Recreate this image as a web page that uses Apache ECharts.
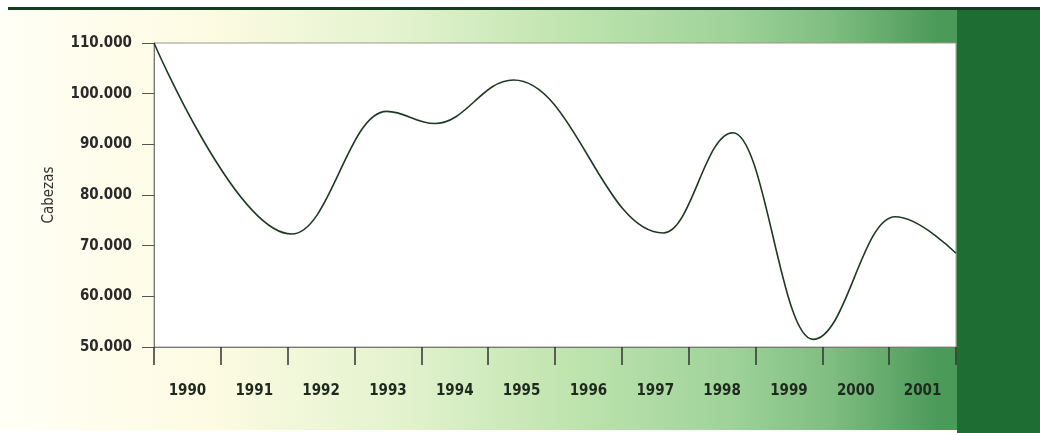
<!DOCTYPE html>
<html>
<head>
<meta charset="utf-8">
<script src="https://cdn.jsdelivr.net/npm/echarts@6/dist/echarts.min.js"></script>
<style>
  html, body { margin: 0; padding: 0; background: #fff; }
  #chart { width: 1040px; height: 433px; }
</style>
</head>
<body>
<div id="chart"></div>
<script>
// años (etiquetas del eje x)
const years = ['1990', '1991', '1992', '1993', '1994', '1995', '1996', '1997', '1998', '1999', '2000', '2001']
// posición de cada punto de la curva (en años) y su valor (cabezas)
const pointYears = [1990.0, 1992.06, 1993.48, 1994.2, 1995.38, 1997.62, 1998.66, 1999.86, 2001.09, 2002.0]
const heads = [110000, 72300, 96500, 94100, 102700, 72500, 92300, 51500, 75700, 68500]
const yTicks = [50000, 60000, 70000, 80000, 90000, 100000, 110000]

const font = '"Liberation Sans Narrow", "DejaVu Sans Condensed", sans-serif'

const chart = echarts.init(document.getElementById('chart'))

chart.setOption({
  animation: false,
  graphic: [
    {
      type: 'rect',
      z: -10,
      shape: { x: 0, y: 10, width: 1040, height: 420 },
      style: {
        fill: new echarts.graphic.LinearGradient(0, 0, 1, 0, [
          { offset: 0, color: '#fffff6' },
          { offset: 0.2, color: '#fdfbe2' },
          { offset: 0.38, color: '#e4f3cf' },
          { offset: 0.55, color: '#bfe4ae' },
          { offset: 0.7, color: '#9fd39a' },
          { offset: 0.8, color: '#7fbd80' },
          { offset: 0.9, color: '#4c9a5a' }
        ])
      }
    },
    {
      type: 'rect',
      z: -9,
      shape: { x: 957, y: 10, width: 83, height: 423 },
      style: { fill: '#1e6d32' }
    },
    {
      type: 'rect',
      z: -8,
      shape: { x: 8, y: 7, width: 1032, height: 3 },
      style: { fill: '#163c1f' }
    }
  ],
  grid: {
    left: 154,
    right: 84,
    top: 43,
    bottom: 86,
    show: true,
    backgroundColor: '#ffffff',
    borderColor: '#9a9a8a',
    borderWidth: 1
  },
  xAxis: [
    {
      type: 'category',
      data: years,
      boundaryGap: true,
      axisLine: { show: true, lineStyle: { color: '#777', width: 1 } },
      axisTick: { show: true, inside: false, length: 18, lineStyle: { color: '#333', width: 1.5 } },
      axisLabel: {
        margin: 37,
        color: '#1e2a1e',
        fontFamily: font,
        fontWeight: 'bold',
        fontSize: 15
      }
    },
    {
      type: 'value',
      min: 1990,
      max: 2002,
      show: false
    }
  ],
  yAxis: {
    type: 'value',
    min: 50000,
    max: 110000,
    interval: 10000,
    name: 'Cabezas',
    nameLocation: 'middle',
    nameGap: 97,
    nameTextStyle: { color: '#333', fontFamily: font, fontSize: 15 },
    axisLine: { show: true, lineStyle: { color: '#777', width: 1 } },
    axisTick: { show: true, length: 12, lineStyle: { color: '#555', width: 1 } },
    splitLine: { show: false },
    axisLabel: {
      margin: 22,
      color: '#2a2a2a',
      fontFamily: font,
      fontWeight: 'bold',
      fontSize: 15,
      formatter: v => (yTicks.indexOf(v) >= 0 ? (v / 1000) + '.000' : '')
    }
  },
  series: [{
    type: 'line',
    xAxisIndex: 1,
    smooth: 0.4,
    smoothMonotone: 'x',
    symbol: 'none',
    lineStyle: { color: '#1f3a24', width: 1.6 },
    data: pointYears.map((x, i) => [x, heads[i]])
  }]
})
</script>
</body>
</html>
